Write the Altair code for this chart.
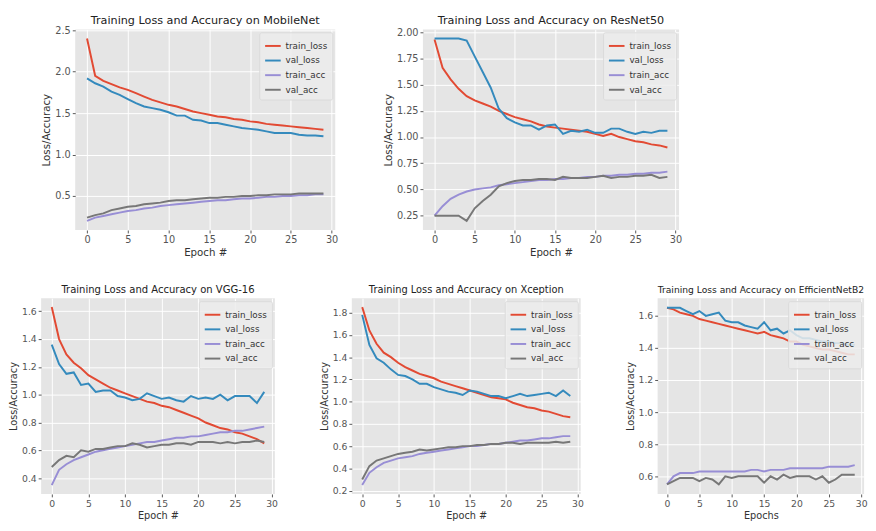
import altair as alt
import pandas as pd

epochs = list(range(30))
series = ["train_loss", "val_loss", "train_acc", "val_acc"]
colors = ["#E24A33", "#348ABD", "#988ED5", "#777777"]
x_ticks = [0, 5, 10, 15, 20, 25, 30]

# MobileNet
mob_train_loss = [2.40, 1.95, 1.89, 1.85, 1.81, 1.78, 1.74, 1.70, 1.66, 1.63, 1.60, 1.58, 1.55, 1.52, 1.50,
                  1.48, 1.46, 1.45, 1.43, 1.42, 1.40, 1.39, 1.37, 1.36, 1.35, 1.34, 1.33, 1.32, 1.31, 1.30]
mob_val_loss = [1.92, 1.86, 1.82, 1.76, 1.72, 1.67, 1.62, 1.58, 1.56, 1.54, 1.51, 1.47, 1.47, 1.42, 1.41,
                1.38, 1.38, 1.36, 1.34, 1.32, 1.31, 1.30, 1.28, 1.26, 1.26, 1.26, 1.24, 1.23, 1.23, 1.22]
mob_train_acc = [0.20, 0.24, 0.26, 0.28, 0.30, 0.32, 0.33, 0.35, 0.36, 0.38, 0.39, 0.40, 0.41, 0.42, 0.43,
                 0.44, 0.45, 0.45, 0.46, 0.47, 0.47, 0.48, 0.49, 0.49, 0.50, 0.50, 0.51, 0.51, 0.52, 0.52]
mob_val_acc = [0.24, 0.27, 0.29, 0.33, 0.35, 0.37, 0.38, 0.40, 0.41, 0.42, 0.44, 0.45, 0.45, 0.46, 0.47,
               0.48, 0.48, 0.49, 0.49, 0.50, 0.50, 0.51, 0.51, 0.52, 0.52, 0.52, 0.53, 0.53, 0.53, 0.53]

# ResNet50
res_train_loss = [1.93, 1.66, 1.55, 1.46, 1.39, 1.35, 1.32, 1.29, 1.25, 1.22, 1.19, 1.17, 1.15, 1.12, 1.10,
                  1.09, 1.08, 1.07, 1.06, 1.05, 1.03, 1.01, 1.03, 1.00, 0.98, 0.96, 0.95, 0.93, 0.92, 0.90]
res_val_loss = [1.94, 1.94, 1.94, 1.94, 1.92, 1.77, 1.62, 1.47, 1.27, 1.18, 1.14, 1.11, 1.11, 1.07, 1.11,
                1.12, 1.03, 1.06, 1.05, 1.07, 1.04, 1.04, 1.08, 1.08, 1.05, 1.03, 1.05, 1.04, 1.06, 1.06]
res_train_acc = [0.25, 0.34, 0.41, 0.45, 0.48, 0.50, 0.51, 0.52, 0.54, 0.55, 0.56, 0.57, 0.58, 0.59, 0.59,
                 0.60, 0.60, 0.61, 0.61, 0.62, 0.62, 0.63, 0.63, 0.64, 0.64, 0.65, 0.65, 0.66, 0.66, 0.67]
res_val_acc = [0.25, 0.25, 0.25, 0.25, 0.20, 0.32, 0.39, 0.45, 0.53, 0.56, 0.58, 0.59, 0.59, 0.60, 0.60,
               0.59, 0.62, 0.61, 0.61, 0.61, 0.62, 0.63, 0.61, 0.62, 0.62, 0.63, 0.63, 0.64, 0.61, 0.62]

# VGG-16
vgg_train_loss = [1.63, 1.40, 1.29, 1.23, 1.19, 1.14, 1.11, 1.08, 1.05, 1.03, 1.01, 0.99, 0.97, 0.95, 0.94,
                  0.92, 0.91, 0.89, 0.87, 0.85, 0.83, 0.80, 0.78, 0.76, 0.75, 0.73, 0.72, 0.70, 0.68, 0.65]
vgg_val_loss = [1.36, 1.22, 1.15, 1.16, 1.07, 1.08, 1.02, 1.03, 1.03, 0.99, 0.98, 0.96, 0.97, 1.01, 0.99,
                0.97, 0.98, 0.96, 0.95, 0.99, 0.97, 0.98, 0.97, 1.00, 0.96, 0.99, 0.99, 0.99, 0.94, 1.02]
vgg_train_acc = [0.35, 0.46, 0.50, 0.53, 0.55, 0.57, 0.59, 0.60, 0.61, 0.62, 0.63, 0.64, 0.65, 0.66, 0.66,
                 0.67, 0.68, 0.69, 0.69, 0.70, 0.70, 0.71, 0.72, 0.73, 0.73, 0.74, 0.74, 0.75, 0.76, 0.77]
vgg_val_acc = [0.48, 0.53, 0.56, 0.55, 0.60, 0.59, 0.61, 0.61, 0.62, 0.63, 0.63, 0.65, 0.64, 0.62, 0.63,
               0.64, 0.64, 0.65, 0.65, 0.64, 0.66, 0.66, 0.66, 0.65, 0.66, 0.65, 0.66, 0.66, 0.67, 0.66]

# Xception
xce_train_loss = [1.85, 1.64, 1.52, 1.44, 1.40, 1.35, 1.31, 1.28, 1.25, 1.23, 1.21, 1.18, 1.16, 1.14, 1.12,
                  1.10, 1.08, 1.06, 1.04, 1.03, 1.02, 0.99, 0.97, 0.95, 0.94, 0.92, 0.91, 0.89, 0.87, 0.86]
xce_val_loss = [1.78, 1.51, 1.39, 1.35, 1.29, 1.24, 1.23, 1.20, 1.16, 1.16, 1.13, 1.11, 1.09, 1.08, 1.06,
                1.10, 1.09, 1.07, 1.05, 1.05, 1.03, 1.05, 1.07, 1.05, 1.06, 1.07, 1.08, 1.05, 1.10, 1.05]
xce_train_acc = [0.25, 0.36, 0.41, 0.45, 0.47, 0.49, 0.50, 0.51, 0.53, 0.54, 0.55, 0.56, 0.57, 0.58, 0.59,
                 0.60, 0.60, 0.61, 0.62, 0.62, 0.63, 0.64, 0.65, 0.65, 0.66, 0.67, 0.67, 0.68, 0.69, 0.69]
xce_val_acc = [0.30, 0.42, 0.47, 0.49, 0.51, 0.53, 0.54, 0.55, 0.57, 0.56, 0.57, 0.58, 0.59, 0.59, 0.60,
               0.60, 0.61, 0.61, 0.62, 0.62, 0.63, 0.63, 0.62, 0.63, 0.63, 0.63, 0.63, 0.64, 0.63, 0.64]

# EfficientNetB2
eff_train_loss = [1.65, 1.64, 1.62, 1.61, 1.60, 1.58, 1.57, 1.56, 1.55, 1.54, 1.53, 1.52, 1.51, 1.50, 1.49,
                  1.50, 1.48, 1.47, 1.46, 1.44, 1.44, 1.42, 1.41, 1.40, 1.39, 1.39, 1.38, 1.37, 1.36, 1.36]
eff_val_loss = [1.65, 1.65, 1.65, 1.63, 1.61, 1.63, 1.60, 1.61, 1.62, 1.57, 1.56, 1.56, 1.54, 1.53, 1.52,
                1.56, 1.51, 1.52, 1.49, 1.51, 1.48, 1.46, 1.46, 1.45, 1.44, 1.44, 1.43, 1.43, 1.42, 1.42]
eff_train_acc = [0.55, 0.60, 0.62, 0.62, 0.62, 0.63, 0.63, 0.63, 0.63, 0.63, 0.63, 0.63, 0.63, 0.64, 0.64,
                 0.63, 0.64, 0.64, 0.64, 0.65, 0.65, 0.65, 0.65, 0.65, 0.65, 0.66, 0.66, 0.66, 0.66, 0.67]
eff_val_acc = [0.55, 0.57, 0.59, 0.59, 0.59, 0.57, 0.59, 0.58, 0.55, 0.60, 0.59, 0.60, 0.60, 0.60, 0.60,
               0.56, 0.60, 0.58, 0.61, 0.59, 0.60, 0.60, 0.60, 0.58, 0.60, 0.56, 0.58, 0.61, 0.61, 0.61]

BG = "#E5E5E5"


def make_df(tl, vl, ta, va):
    rows = []
    for name, vals in zip(series, [tl, vl, ta, va]):
        for e, v in zip(epochs, vals):
            rows.append({"epoch": e, "value": v, "series": name})
    return pd.DataFrame(rows)


def panel(data, title, xtitle, ydomain, yticks, yfmt, width, height, title_offset,
          title_size=11.5, label_size=10, axis_title_size=10.5):
    return (
        alt.Chart(data)
        .mark_line(strokeWidth=2)
        .encode(
            x=alt.X("epoch:Q",
                    scale=alt.Scale(domain=[-1.45, 30.45], nice=False, zero=False),
                    axis=alt.Axis(values=x_ticks, format="d", title=xtitle,
                                  labelFontSize=label_size, titleFontSize=axis_title_size)),
            y=alt.Y("value:Q",
                    scale=alt.Scale(domain=ydomain, nice=False, zero=False),
                    axis=alt.Axis(values=yticks, format=yfmt, title="Loss/Accuracy",
                                  labelFontSize=label_size, titleFontSize=axis_title_size)),
            color=alt.Color("series:N",
                            scale=alt.Scale(domain=series, range=colors),
                            sort=series,
                            legend=alt.Legend(title=None, orient="top-right", offset=3,
                                              symbolType="stroke", symbolSize=256,
                                              symbolStrokeWidth=2, labelFontSize=9,
                                              labelColor="#333333",
                                              fillColor="rgba(236,236,236,0.85)",
                                              strokeColor="#DADADA", padding=5,
                                              rowPadding=1, cornerRadius=2)),
        )
        .properties(
            width=width, height=height,
            title=alt.TitleParams(title, fontSize=title_size, fontWeight="normal",
                                  color="#222222", anchor="middle", frame="group",
                                  offset=title_offset),
            view=alt.ViewBackground(fill=BG, stroke=None),
        )
    )


p1 = panel(make_df(mob_train_loss, mob_val_loss, mob_train_acc, mob_val_acc),
           "Training Loss and Accuracy on MobileNet", "Epoch #",
           [0.09, 2.51], [0.5, 1.0, 1.5, 2.0, 2.5], ".1f", 267, 206, -1)
p2 = panel(make_df(res_train_loss, res_val_loss, res_train_acc, res_val_acc),
           "Training Loss and Accuracy on ResNet50", "Epoch #",
           [0.113, 2.027], [0.25, 0.5, 0.75, 1.0, 1.25, 1.5, 1.75, 2.0], ".2f", 263, 206, 1)
p3 = panel(make_df(vgg_train_loss, vgg_val_loss, vgg_train_acc, vgg_val_acc),
           "Training Loss and Accuracy on VGG-16", "Epoch #",
           [0.286, 1.694], [0.4, 0.6, 0.8, 1.0, 1.2, 1.4, 1.6], ".1f", 240, 201, 3,
           title_size=10.3, label_size=9.5, axis_title_size=10)
p4 = panel(make_df(xce_train_loss, xce_val_loss, xce_train_acc, xce_val_acc),
           "Training Loss and Accuracy on Xception", "Epoch #",
           [0.17, 1.93], [0.2, 0.4, 0.6, 0.8, 1.0, 1.2, 1.4, 1.6, 1.8], ".1f", 235, 201, 3,
           title_size=10.1, label_size=9.5, axis_title_size=10)
p5 = panel(make_df(eff_train_loss, eff_val_loss, eff_train_acc, eff_val_acc),
           "Training Loss and Accuracy on EfficientNetB2", "Epochs",
           [0.49, 1.71], [0.6, 0.8, 1.0, 1.2, 1.4, 1.6], ".1f", 212, 201, 3,
           title_size=9.4, label_size=9.5, axis_title_size=10)

spacer = (
    alt.Chart(pd.DataFrame({"a": [0]}))
    .mark_point(opacity=0, size=1)
    .encode(x=alt.value(0), y=alt.value(0))
    .properties(width=1, height=10,
                view=alt.ViewBackground(fill="transparent", stroke=None))
)

top_pair = alt.hconcat(p1, p2, spacing=46).resolve_scale(color="independent").resolve_legend(color="independent")
top = alt.hconcat(spacer, top_pair, spacing=0).resolve_scale(color="independent").resolve_legend(color="independent")
bottom = alt.hconcat(p3, p4, p5, spacing=42).resolve_scale(color="independent").resolve_legend(color="independent")

chart = (
    alt.vconcat(top, bottom, spacing=27)
    .resolve_scale(color="independent")
    .resolve_legend(color="independent")
    .properties(padding=0)
    .configure(font="DejaVu Sans", background="white")
    .configure_axis(grid=True, gridColor="white", gridWidth=1, domain=False,
                    tickColor="#555555", tickSize=3, labelColor="#555555",
                    titleColor="#333333", titleFontWeight="normal",
                    labelPadding=2, titlePadding=3)
    .configure_view(stroke=None)
)

chart.save("out.html", embed_options={"renderer": "svg", "actions": False})
